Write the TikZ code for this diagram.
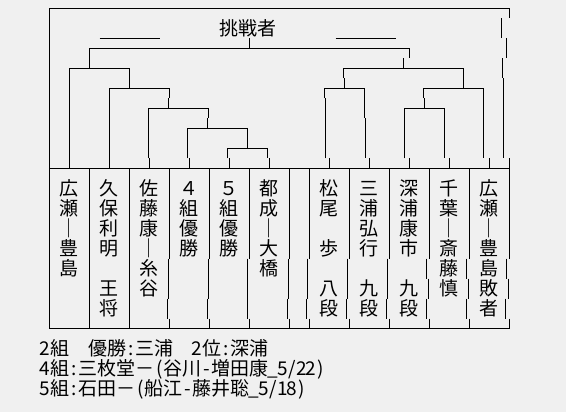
\documentclass[tikz,border=0pt]{standalone}
\usepackage{fontspec}
\newfontfamily\jp{Noto Sans CJK JP}
\definecolor{bg}{HTML}{F0F0F0}
\newcommand\fw[1]{\makebox[19pt]{#1}}
\newcommand\hw[1]{\makebox[9.5pt]{#1}}
\def\gridchar#1{\ifx#1\_\hw{\_}\else\ifnum`#1>255 \fw{#1}\else\hw{#1}\fi\fi}
\def\gridloop#1{\ifx#1\relax\else\gridchar{#1}\expandafter\gridloop\fi}
\newcommand\grid[1]{\gridloop#1\relax}
\begin{document}
\begin{tikzpicture}[x=1pt,y=-1pt,line width=1pt,line cap=butt]
\tikzset{name style/.style={font=\jp\fontsize{19}{20}\selectfont,inner sep=0pt,text height=16.5pt,text depth=2pt},
	line style/.style={name style,anchor=west}}
\fill[bg] (0,0) rectangle (566,412);
\useasboundingbox (0,0) rectangle (566,412);
\begin{scope}[shift={(0.5,0.5)}]
\draw (49,8)--(509,8) (49,8)--(49,328)--(509,328) (49,168)--(509,168);
\draw (509,8)--(509,18) (501,18)--(501,38) (506,38)--(506,58) (502,58)--(502,78) (503,78)--(503,158) (509,158)--(509,168);
\draw (99,38)--(159,38) (335,38)--(395,38);
\draw (249,38)--(249,48);
\draw (89,68)--(89,48)--(409,48)--(409,58) (403,58)--(403,68);
\draw (69,168)--(69,68)--(129,68)--(129,88);
\draw (109,168)--(109,88)--(169,88)--(169,98) (168,98)--(168,108);
\draw (149,168)--(149,158) (148,158)--(148,108)--(208,108)--(208,118) (207,118)--(207,128);
\draw (189,168)--(189,158) (187,158)--(187,128)--(247,128)--(247,148);
\draw (229,168)--(229,158) (227,158)--(227,148)--(267,148)--(267,158) (269,158)--(269,168);
\draw (344,88)--(344,78) (343,78)--(343,68)--(463,68)--(463,88);
\draw (329,168)--(329,158) (325,158)--(325,98) (324,98)--(324,88)--(364,88)--(364,118) (365,118)--(365,158) (369,158)--(369,168);
\draw (424,108)--(424,98) (423,98)--(423,88)--(483,88)--(483,158) (489,158)--(489,168);
\draw (409,168)--(409,158) (404,158)--(404,108)--(444,108)--(444,158) (449,158)--(449,168);
\foreach \x/\b/\bb/\c in {89/89/89/89,129/129/129/129,169/168/168/167,209/208/208/207,249/247/247/247,289/288/288/286.5,
	309/307/307/306,349/347/347/346,389/387/387/386,429/426/427.5/426,469/466/467.5/466,509/506/507.5/505}
	\draw (\x,168)--(\x,258) (\b,258)--(\b,278) (\bb,278)--(\bb,298) (\c,298)--(\c,318) (\x,318)--(\x,328);
\end{scope}
\node[name style] (champ) at (248,28.5) {\grid{挑戦者}};
\foreach \x/\list [count=\i] in {69/{広,瀬,｜,豊,島},109/{久,保,利,明,,王,将},149/{佐,藤,康,｜,糸,谷},
	189/{４,組,優,勝},229/{５,組,優,勝},269/{都,成,｜,大,橋},329/{松,尾,,歩,,八,段},369/{三,浦,弘,行,,九,段},
	409/{深,浦,康,市,,九,段},449/{千,葉,｜,斎,藤,慎},489/{広,瀬,｜,豊,島,敗,者}}
	\foreach \c [count=\k from 0] in \list
		\node[name style] (n-\i-\k) at (\x,{188.5+20*\k}) {\c};
\node[line style] (result2) at (40,348.5) {\grid{2組　優勝:三浦　2位:深浦}};
\node[line style] (result4) at (40,368.5) {\grid{4組:三枚堂－(谷川-増田康\_5/22)}};
\node[line style] (result5) at (40,388.5) {\grid{5組:石田－(船江-藤井聡\_5/18)}};
\end{tikzpicture}
\end{document}
